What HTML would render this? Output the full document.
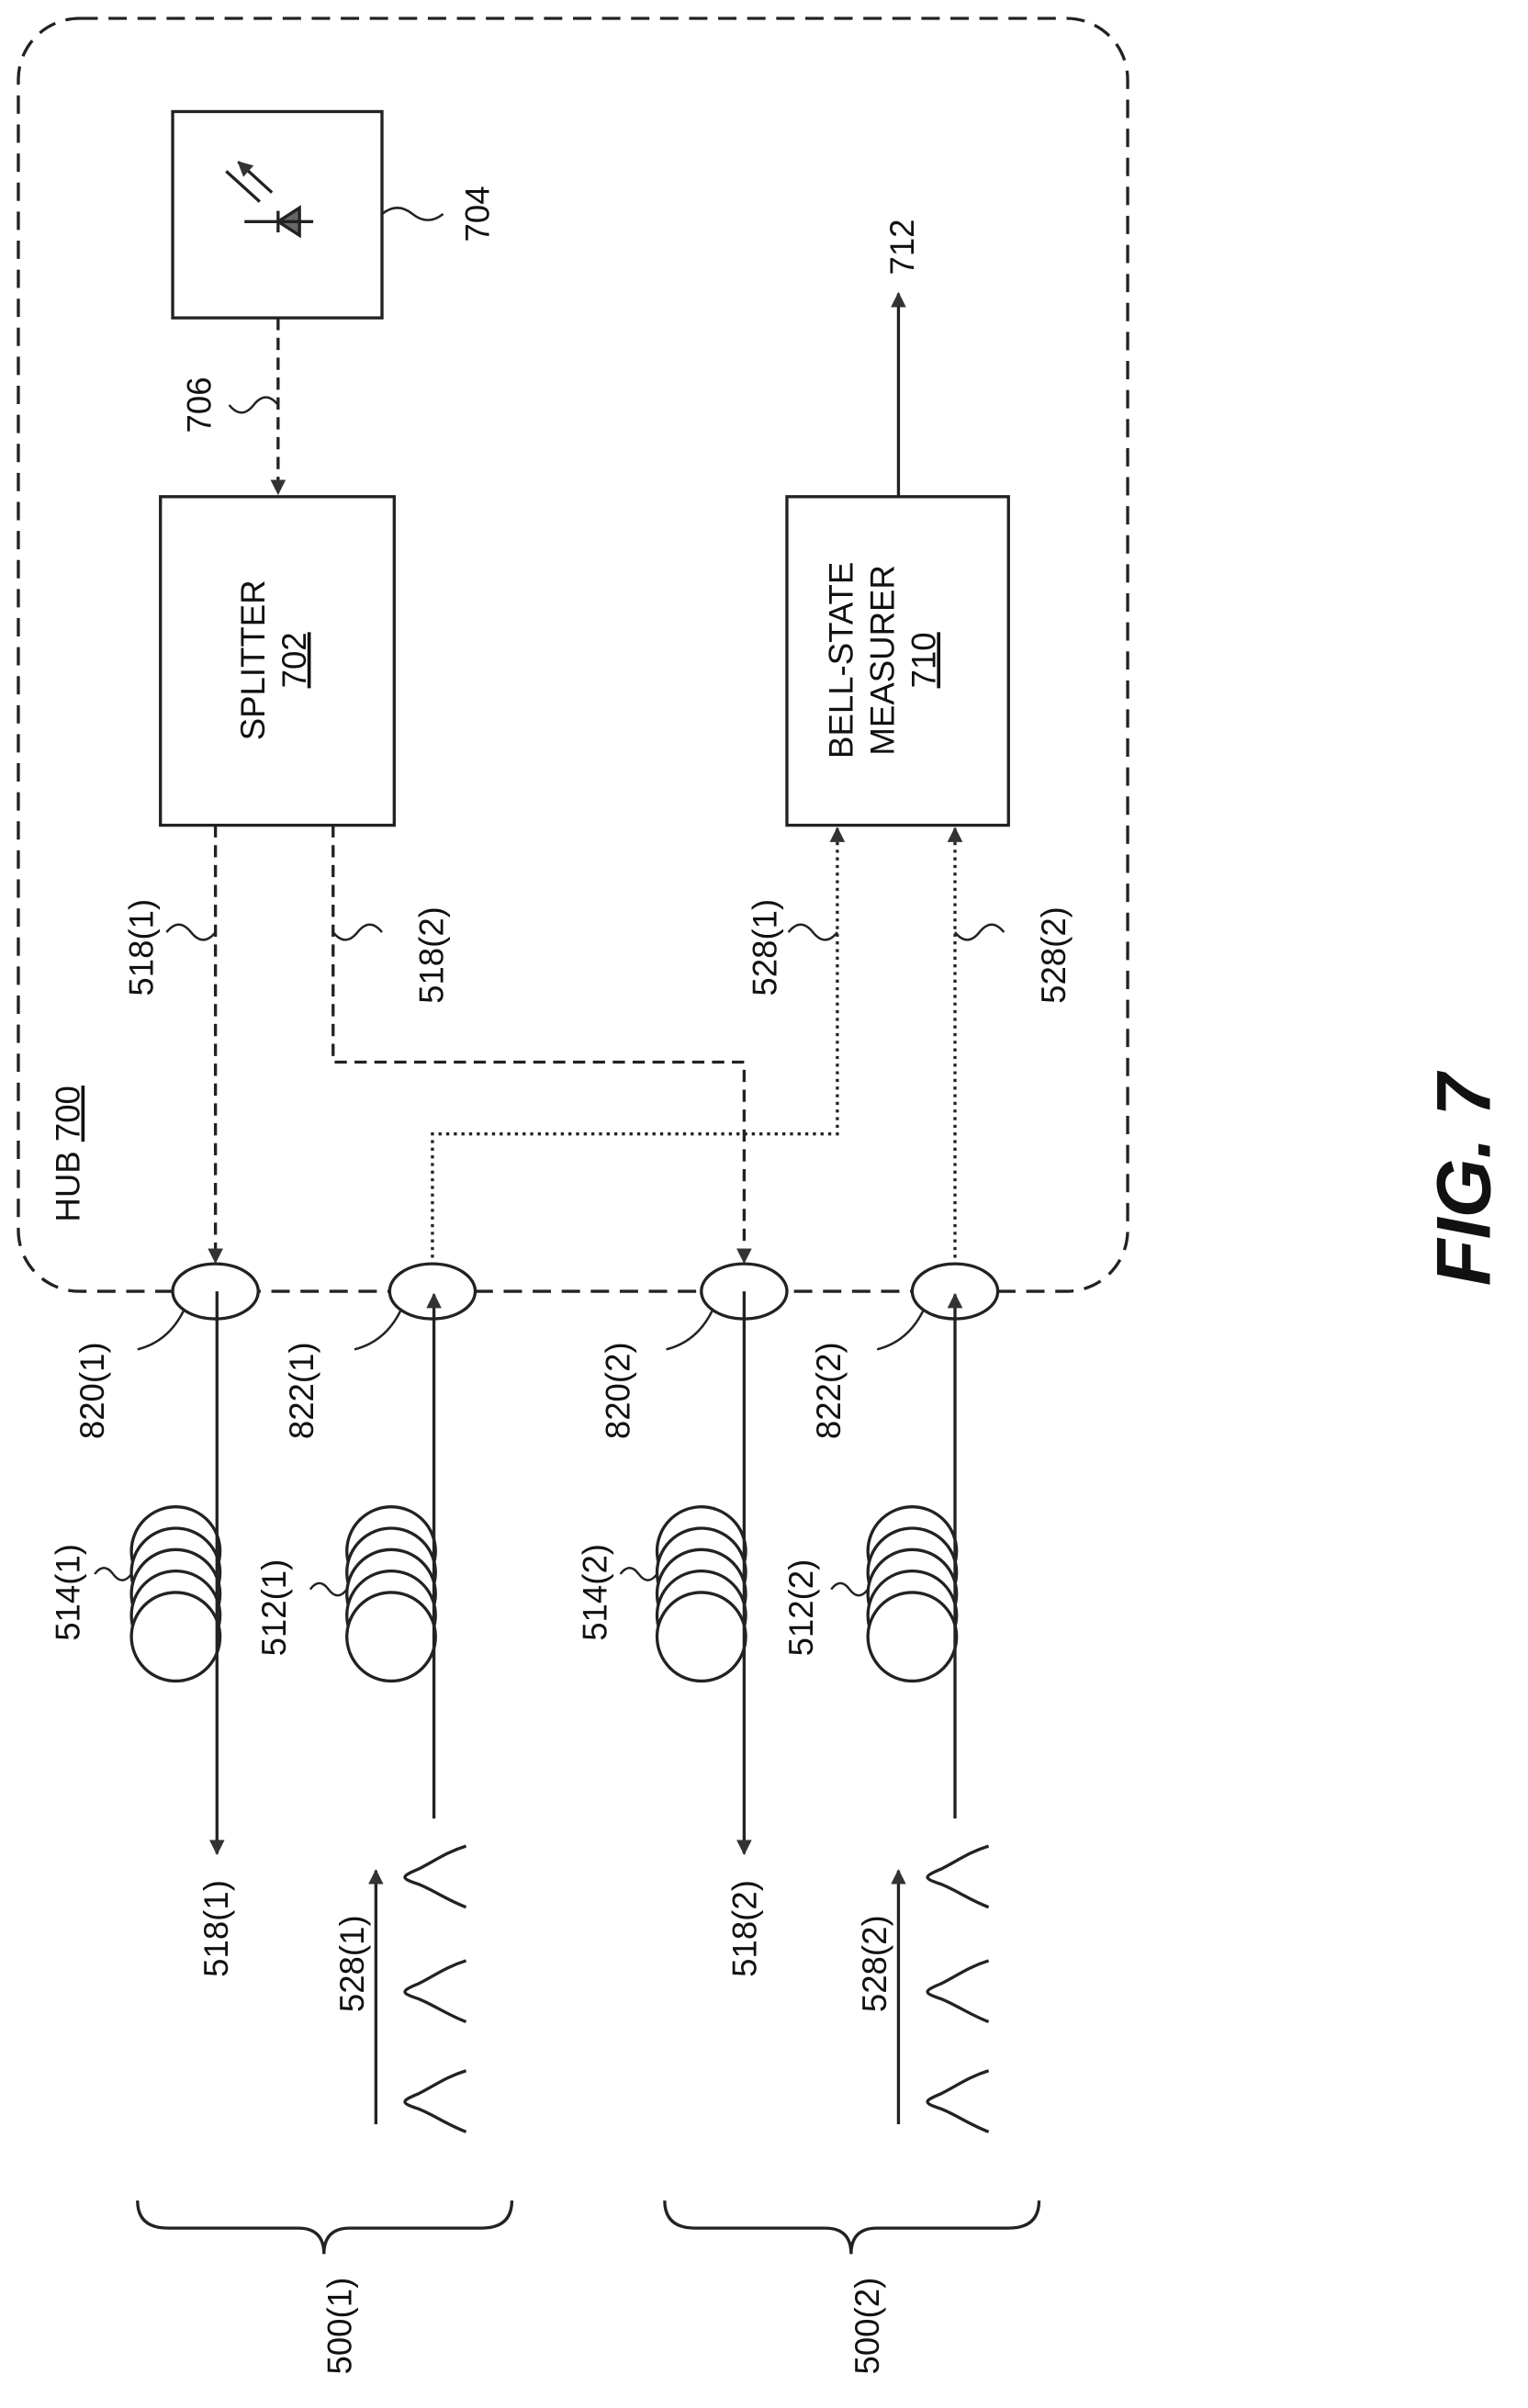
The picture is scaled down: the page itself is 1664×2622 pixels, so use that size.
<!DOCTYPE html>
<html><head><meta charset="utf-8"><style>html,body{margin:0;padding:0;background:#fff}svg{display:block}text{font-family:"Liberation Sans",sans-serif;fill:#111}</style></head>
<body>
<svg width="1664" height="2622" viewBox="0 0 1000 1575.7" xmlns="http://www.w3.org/2000/svg">
<defs>
<marker id="a" markerWidth="10" markerHeight="10" refX="9" refY="5" orient="auto" markerUnits="userSpaceOnUse"><path d="M0,0 L10,5 L0,10 Z" fill="#333"/></marker>
<g id="coil" fill="#fff" stroke="#222" stroke-width="2">
<circle cx="-28" cy="1015" r="29"/><circle cx="-28" cy="1029" r="29"/><circle cx="-28" cy="1043" r="29"/><circle cx="-28" cy="1057" r="29"/><circle cx="-28" cy="1071" r="29"/>
</g>
<path id="bump" d="M305,0 C292,4 284,10 274,15 C262,20 262,21 274,25 C284,29 292,35 305,40" fill="none" stroke="#222" stroke-width="2"/>
<g id="pulse">
<use href="#bump" transform="translate(0,1208)"/>
<use href="#bump" transform="translate(0,1283)"/>
<use href="#bump" transform="translate(0,1355)"/>
<path d="M246,1390 V1224" fill="none" stroke="#222" stroke-width="2" marker-end="url(#a)"/>
</g>
</defs>
<g fill="none" stroke="#222" stroke-width="2">
<rect x="12" y="12" width="726" height="833" rx="40" stroke-dasharray="12,7"/>
<rect x="113" y="73" width="137" height="135"/>
<rect x="105" y="325" width="153" height="215"/>
<rect x="515" y="325" width="145" height="215"/>
<path d="M160,145 L205,145 M182,138 L182,152 M182,145 L196,136 L196,154 Z" fill="#666"/>
<path d="M170,132 L148,112 M178,126 L156,106" marker-end="url(#a)"/>
<path d="M182,208 V323" stroke-dasharray="8,5" marker-end="url(#a)"/>
<path d="M141,540 V826" stroke-dasharray="8,5" marker-end="url(#a)"/>
<path d="M218,540 V695 H487 V826" stroke-dasharray="8,5" marker-end="url(#a)"/>
<path d="M283,828 V742 H548 V542" stroke-dasharray="2,3" marker-end="url(#a)"/>
<path d="M625,828 V542" stroke-dasharray="2,3" marker-end="url(#a)"/>
<path d="M588,325 V192" marker-end="url(#a)"/>
<ellipse cx="141" cy="845" rx="28" ry="18" fill="#fff"/>
<ellipse cx="283" cy="845" rx="28" ry="18" fill="#fff"/>
<ellipse cx="487" cy="845" rx="28" ry="18" fill="#fff"/>
<ellipse cx="625" cy="845" rx="28" ry="18" fill="#fff"/>
</g>
<use href="#coil" transform="translate(143,0)"/>
<use href="#coil" transform="translate(284,0)"/>
<use href="#coil" transform="translate(487,0)"/>
<use href="#coil" transform="translate(625,0)"/>
<g fill="none" stroke="#222" stroke-width="2">
<path d="M142,845 V1213" marker-end="url(#a)"/>
<path d="M487,845 V1213" marker-end="url(#a)"/>
<path d="M284,1190 V847" marker-end="url(#a)"/>
<path d="M625,1190 V847" marker-end="url(#a)"/>
<path d="M90,1440 Q90,1458 110,1458 H195 Q212,1458 212,1475 Q212,1458 229,1458 H315 Q335,1458 335,1440"/>
<path d="M435,1440 Q435,1458 455,1458 H540 Q557,1458 557,1475 Q557,1458 574,1458 H660 Q680,1458 680,1440"/>
<g stroke-width="1.5">
<path d="M250,140 q10,-8 20,0 t20,0"/>
<path d="M182,265 q-8,-10 -16,0 t-16,0"/>
<path d="M141,610 q-8,10 -16,0 t-16,0"/>
<path d="M218,610 q8,10 16,0 t16,0"/>
<path d="M548,610 q-8,10 -16,0 t-16,0"/>
<path d="M625,610 q8,10 16,0 t16,0"/>
<path d="M120,858 q-10,20 -30,25"/><path d="M262,858 q-10,20 -30,25"/>
<path d="M466,858 q-10,20 -30,25"/><path d="M604,858 q-10,20 -30,25"/>
<path d="M86,1030 q-6,8 -12,0 t-12,0"/><path d="M227,1040 q-6,8 -12,0 t-12,0"/>
<path d="M430,1030 q-6,8 -12,0 t-12,0"/><path d="M568,1040 q-6,8 -12,0 t-12,0"/>
</g>
</g>
<use href="#pulse"/>
<use href="#pulse" transform="translate(342,0)"/>
<g font-size="22">
<text transform="translate(320,140) rotate(-90)" text-anchor="middle">704</text>
<text transform="translate(138,265) rotate(-90)" text-anchor="middle">706</text>
<text transform="translate(598,180) rotate(-90)" text-anchor="start">712</text>
<text transform="translate(173,432) rotate(-90)" text-anchor="middle">SPLITTER</text>
<text transform="translate(200,432) rotate(-90)" text-anchor="middle" text-decoration="underline">702</text>
<text transform="translate(558,432) rotate(-90)" text-anchor="middle">BELL-STATE</text>
<text transform="translate(585,432) rotate(-90)" text-anchor="middle">MEASURER</text>
<text transform="translate(612,432) rotate(-90)" text-anchor="middle" text-decoration="underline">710</text>
<text transform="translate(100,620) rotate(-90)" text-anchor="middle">518(1)</text>
<text transform="translate(290,625) rotate(-90)" text-anchor="middle">518(2)</text>
<text transform="translate(508,620) rotate(-90)" text-anchor="middle">528(1)</text>
<text transform="translate(697,625) rotate(-90)" text-anchor="middle">528(2)</text>
<text transform="translate(52,755) rotate(-90)" text-anchor="middle">HUB <tspan text-decoration="underline">700</tspan></text>
<text transform="translate(68,910) rotate(-90)" text-anchor="middle">820(1)</text>
<text transform="translate(205,910) rotate(-90)" text-anchor="middle">822(1)</text>
<text transform="translate(412,910) rotate(-90)" text-anchor="middle">820(2)</text>
<text transform="translate(550,910) rotate(-90)" text-anchor="middle">822(2)</text>
<text transform="translate(52,1042) rotate(-90)" text-anchor="middle">514(1)</text>
<text transform="translate(187,1052) rotate(-90)" text-anchor="middle">512(1)</text>
<text transform="translate(397,1042) rotate(-90)" text-anchor="middle">514(2)</text>
<text transform="translate(532,1052) rotate(-90)" text-anchor="middle">512(2)</text>
<text transform="translate(149,1262) rotate(-90)" text-anchor="middle">518(1)</text>
<text transform="translate(495,1262) rotate(-90)" text-anchor="middle">518(2)</text>
<text transform="translate(238,1285) rotate(-90)" text-anchor="middle">528(1)</text>
<text transform="translate(580,1285) rotate(-90)" text-anchor="middle">528(2)</text>
<text transform="translate(230,1522) rotate(-90)" text-anchor="middle">500(1)</text>
<text transform="translate(575,1522) rotate(-90)" text-anchor="middle">500(2)</text>
<text transform="translate(975,772) rotate(-90)" text-anchor="middle" font-size="50" font-weight="bold" font-style="italic">FIG. 7</text>
</g>
</svg>
</body></html>
